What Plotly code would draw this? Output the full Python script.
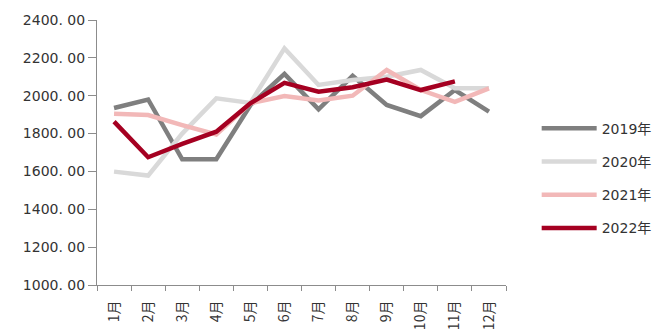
import plotly.graph_objects as go

months = ["1月", "2月", "3月", "4月", "5月", "6月", "7月", "8月", "9月", "10月", "11月", "12月"]

y2019 = [1935, 1980, 1664, 1664, 1950, 2115, 1928, 2105, 1951, 1892, 2030, 1916]
y2020 = [1599, 1578, 1800, 1986, 1962, 2250, 2057, 2083, 2100, 2136, 2040, 2040]
y2021 = [1905, 1898, 1845, 1795, 1960, 1998, 1975, 2000, 2136, 2030, 1968, 2039]
y2022 = [1863, 1675, 1745, 1810, 1960, 2068, 2021, 2045, 2085, 2030, 2076, None]

series = [
    ("2019年", y2019, "#7f7f7f"),
    ("2020年", y2020, "#d9d9d9"),
    ("2021年", y2021, "#f2b8b8"),
    ("2022年", y2022, "#a50021"),
]

tick_vals = [1000, 1200, 1400, 1600, 1800, 2000, 2200, 2400]
tick_text = [f"{v}. 00" for v in tick_vals]

font_family = "DejaVu Sans, Noto Sans CJK SC"

fig = go.Figure()
for i, (name, vals, color) in enumerate(series):
    fig.add_trace(go.Scatter(
        x=months, y=vals, name=name, mode="lines",
        line=dict(color=color, width=4.5),
        legendgroup=f"g{i}",
        connectgaps=False,
    ))

fig.update_layout(
    width=669, height=333,
    margin=dict(l=97, r=159, t=20, b=48),
    paper_bgcolor="white", plot_bgcolor="white",
    font=dict(family=font_family, size=14, color="#333333"),
    showlegend=True,
    legend=dict(
        x=1.075, y=0.65, xanchor="left", yanchor="top",
        font=dict(size=14, color="#333333"),
        itemwidth=55, tracegroupgap=12,
        bgcolor="rgba(0,0,0,0)",
    ),
    xaxis=dict(
        type="category", range=[-0.5, 11.5],
        showline=True, linecolor="#8c8c8c", linewidth=1,
        ticks="outside", tickson="boundaries", ticklen=5, tickcolor="#8c8c8c",
        tickangle=-90, showgrid=False, zeroline=False,
        ticklabelstandoff=9, automargin=False,
        tickfont=dict(size=14, family="Noto Sans CJK SC"),
    ),
    yaxis=dict(
        range=[1000, 2400], tickvals=tick_vals, ticktext=tick_text,
        showline=True, linecolor="#8c8c8c", linewidth=1,
        ticks="outside", ticklen=8, tickcolor="#8c8c8c",
        showgrid=False, zeroline=False, automargin=False,
        tickfont=dict(size=14),
    ),
)

fig.write_html("out.html")
